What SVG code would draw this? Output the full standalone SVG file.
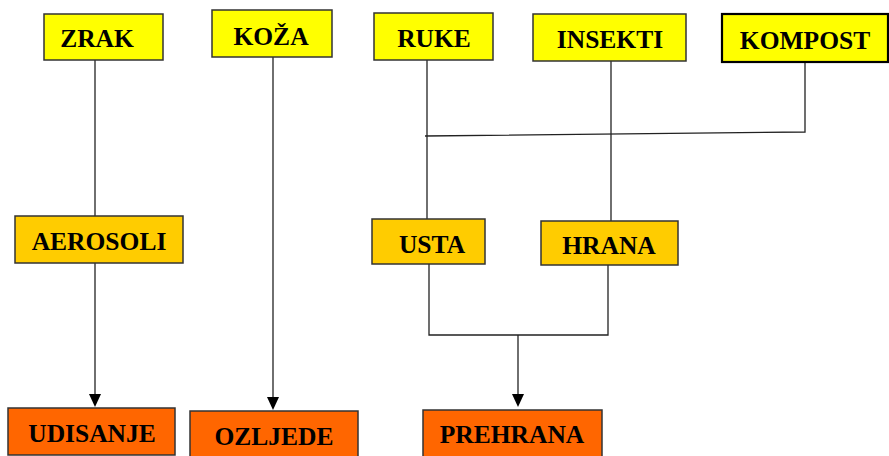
<svg xmlns="http://www.w3.org/2000/svg" width="889" height="456" viewBox="0 0 889 456">
<style>
.box{stroke:#333;stroke-width:1.5}
.y{fill:#FFFF00}
.g{fill:#FFCC00}
.o{fill:#FF6600}
.t{font-family:"Liberation Serif",serif;font-weight:bold;font-size:25.5px;fill:#000;text-anchor:middle}
.c{fill:none;stroke:#222;stroke-width:1.3}
.a{fill:#000}
</style>
<g id="connectors">
<path class="c" d="M95,60 L95,216"/>
<path class="c" d="M95,263 L95,395"/>
<path class="a" d="M89,394 L101,394 L95,407 Z"/>
<path class="c" d="M273,57 L273,398"/>
<path class="a" d="M267,397 L279,397 L273,410 Z"/>
<path class="c" d="M427,60 L427,219"/>
<path class="c" d="M425,136 L805,132 L805,62"/>
<path class="c" d="M611,58 L611,221"/>
<path class="c" d="M429,264 L429,335 L608,335 L608,265"/>
<path class="c" d="M518,335 L518,395"/>
<path class="a" d="M512,394 L524,394 L518,407 Z"/>
</g>
<g id="zrak"><rect class="box y" x="44" y="14" width="119" height="46"/><text class="t" x="97" y="47">ZRAK</text></g>
<g id="koza"><rect class="box y" x="212" y="10" width="120" height="47"/><text class="t" x="271" y="45">KOŽA</text></g>
<g id="ruke"><rect class="box y" x="374" y="13" width="119" height="47"/><text class="t" x="434" y="47">RUKE</text></g>
<g id="insekti"><rect class="box y" x="533" y="14" width="153" height="47"/><text class="t" x="610" y="48">INSEKTI</text></g>
<g id="kompost"><rect class="y" x="722" y="14" width="166" height="48" stroke="#000" stroke-width="2.2"/><text class="t" x="805" y="49">KOMPOST</text></g>
<g id="aerosoli"><rect class="box g" x="15" y="216" width="168" height="47"/><text class="t" x="99" y="250">AEROSOLI</text></g>
<g id="usta"><rect class="box g" x="372" y="219" width="113" height="45"/><text class="t" x="432" y="253">USTA</text></g>
<g id="hrana"><rect class="box g" x="541" y="221" width="137" height="44"/><text class="t" x="609" y="254">HRANA</text></g>
<g id="udisanje"><rect class="box o" x="8" y="408" width="167" height="47"/><text class="t" x="92" y="442">UDISANJE</text></g>
<g id="ozljede"><rect class="box o" x="190" y="411" width="168" height="46"/><text class="t" x="274" y="445">OZLJEDE</text></g>
<g id="prehrana"><rect class="box o" x="423" y="410" width="179" height="47"/><text class="t" x="512" y="443">PREHRANA</text></g>
</svg>
